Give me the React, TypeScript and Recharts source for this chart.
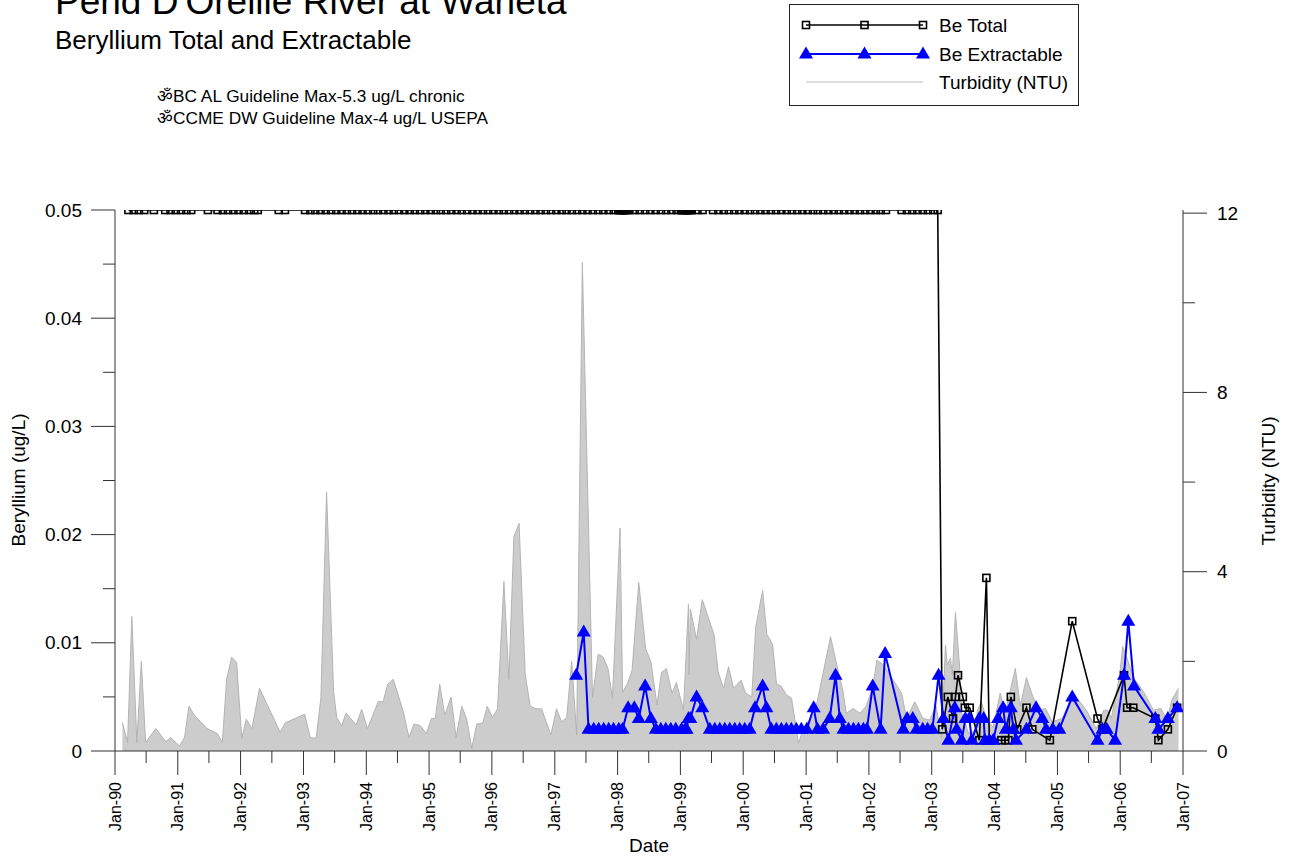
import React from "react";
import { ComposedChart, Area, Line, XAxis, YAxis, Legend } from "recharts";

const FONT = '"Liberation Sans", Arial, Helvetica, sans-serif';
const AXIS = "#333";

const title = "Pend D'Oreille River at Waneta";
const subtitle = "Beryllium Total and Extractable";
const guidelines = [
  "\u0950BC AL Guideline Max-5.3 ug/L chronic",
  "\u0950CCME DW Guideline Max-4 ug/L USEPA",
];

// turbidity, NTU
const turbidity: [string, number][] = [
  ["1990-02-13", 0.64], ["1990-03-15", 0.19], ["1990-04-09", 3.0], ["1990-05-08", 0.19],
  ["1990-06-03", 2.0], ["1990-06-28", 0.19], ["1990-08-26", 0.5], ["1990-10-23", 0.21],
  ["1990-11-21", 0.3], ["1991-01-11", 0.11], ["1991-02-09", 0.3], ["1991-03-07", 1.0],
  ["1991-04-09", 0.79], ["1991-06-21", 0.5], ["1991-08-19", 0.39], ["1991-09-17", 0.19],
  ["1991-10-12", 1.6], ["1991-11-10", 2.09], ["1991-12-09", 1.98], ["1992-01-08", 0.28],
  ["1992-02-03", 0.71], ["1992-03-07", 0.5], ["1992-04-20", 1.4], ["1992-08-18", 0.42],
  ["1992-09-17", 0.63], ["1993-01-08", 0.82], ["1993-02-09", 0.3], ["1993-03-15", 0.28],
  ["1993-04-12", 1.18], ["1993-05-15", 5.78], ["1993-06-25", 1.32], ["1993-07-13", 0.75],
  ["1993-08-11", 0.56], ["1993-09-05", 0.85], ["1993-11-03", 0.58], ["1993-12-05", 0.93],
  ["1994-01-08", 0.5], ["1994-03-11", 1.1], ["1994-04-09", 1.1], ["1994-05-05", 1.49],
  ["1994-06-07", 1.6], ["1994-08-04", 0.88], ["1994-09-06", 0.3], ["1994-10-05", 0.6],
  ["1994-11-10", 0.57], ["1994-12-16", 0.39], ["1995-01-15", 0.73], ["1995-02-06", 0.73],
  ["1995-03-04", 1.49], ["1995-04-02", 0.8], ["1995-05-09", 1.2], ["1995-06-07", 0.3],
  ["1995-07-10", 1.0], ["1995-08-08", 0.71], ["1995-09-06", 0.06], ["1995-10-05", 0.6],
  ["1995-11-10", 0.63], ["1995-12-05", 1.0], ["1996-01-05", 0.75], ["1996-02-03", 0.94],
  ["1996-03-11", 3.78], ["1996-04-09", 1.6], ["1996-05-08", 4.78], ["1996-06-07", 5.08],
  ["1996-07-13", 1.7], ["1996-08-11", 1.0], ["1996-09-13", 0.94], ["1996-10-16", 0.94],
  ["1996-12-09", 0.36], ["1997-01-11", 0.94], ["1997-02-09", 0.65], ["1997-03-11", 0.75],
  ["1997-04-09", 2.0], ["1997-05-08", 0.36], ["1997-06-10", 10.9], ["1997-08-08", 1.2],
  ["1997-09-10", 2.16], ["1997-10-08", 2.1], ["1997-11-06", 1.84], ["1997-12-02", 1.18],
  ["1998-01-15", 4.97], ["1998-01-30", 1.31], ["1998-02-28", 1.51], ["1998-03-26", 1.8],
  ["1998-05-04", 3.76], ["1998-06-13", 2.28], ["1998-07-13", 2.0], ["1998-08-18", 1.03],
  ["1998-09-13", 1.75], ["1998-10-12", 1.84], ["1998-11-13", 1.29], ["1998-12-09", 1.53],
  ["1999-01-19", 0.91], ["1999-02-17", 3.28], ["1999-02-20", 1.7], ["1999-02-28", 3.17],
  ["1999-04-05", 2.49], ["1999-05-08", 3.38], ["1999-07-16", 2.59], ["1999-08-08", 1.77],
  ["1999-09-09", 1.4], ["1999-10-08", 1.88], ["1999-11-06", 1.4], ["1999-12-20", 1.58],
  ["2000-01-15", 1.29], ["2000-02-20", 1.21], ["2000-03-14", 2.77], ["2000-04-23", 3.58],
  ["2000-05-18", 2.6], ["2000-06-20", 2.38], ["2000-07-13", 1.49], ["2000-08-08", 1.45],
  ["2000-09-09", 1.25], ["2000-10-08", 1.18], ["2000-11-18", 0.17], ["2000-12-06", 0.39],
  ["2001-01-05", 0.62], ["2001-02-20", 0.84], ["2001-04-09", 1.73], ["2001-05-23", 2.55],
  ["2001-06-28", 1.92], ["2001-08-04", 1.32], ["2001-08-22", 0.84], ["2001-10-01", 0.95],
  ["2001-11-10", 0.84], ["2001-12-16", 1.0], ["2002-01-23", 1.43], ["2002-02-17", 2.03],
  ["2002-03-26", 1.92], ["2002-05-23", 1.58], ["2002-07-10", 1.29], ["2002-08-08", 0.73],
  ["2002-09-25", 1.1], ["2002-11-10", 0.73], ["2002-12-20", 0.69], ["2003-01-26", 1.0],
  ["2003-02-28", 0.28], ["2003-03-22", 2.36], ["2003-04-02", 1.92], ["2003-04-20", 2.07],
  ["2003-05-01", 1.7], ["2003-05-19", 3.09], ["2003-06-13", 1.84], ["2003-06-25", 0.84],
  ["2003-08-04", 0.39], ["2003-09-06", 0.45], ["2003-09-25", 0.91], ["2003-10-16", 1.1],
  ["2003-11-18", 0.69], ["2003-12-25", 0.53], ["2004-02-03", 1.29], ["2004-03-03", 0.84],
  ["2004-05-01", 1.84], ["2004-05-30", 1.0], ["2004-07-05", 1.64], ["2004-08-11", 1.21],
  ["2004-09-20", 0.91], ["2004-10-23", 0.95], ["2004-12-02", 0.65], ["2005-01-30", 0.73],
  ["2005-04-02", 1.29], ["2005-06-18", 0.91], ["2005-08-15", 0.5], ["2005-09-27", 0.91],
  ["2005-10-20", 0.91], ["2005-11-10", 0.73], ["2005-12-28", 1.66], ["2006-01-15", 2.33],
  ["2006-03-26", 1.6], ["2006-05-20", 1.3], ["2006-07-13", 0.91], ["2006-08-25", 0.95],
  ["2006-10-01", 0.69], ["2006-10-27", 1.13], ["2006-12-06", 1.4],
];

// total beryllium, ug/L (0.05 = detection limit before 2003)
const beTotal: [string, number][] = [
  ["1990-03-20", 0.05], ["1990-04-20", 0.05], ["1990-05-20", 0.05], ["1990-06-20", 0.05],
  ["1990-08-15", 0.05], ["1990-10-20", 0.05], ["1990-11-20", 0.05], ["1990-12-20", 0.05],
  ["1991-01-20", 0.05], ["1991-02-20", 0.05], ["1991-03-20", 0.05], ["1991-06-25", 0.05],
  ["1991-08-20", 0.05], ["1991-09-20", 0.05], ["1991-10-20", 0.05], ["1991-11-20", 0.05],
  ["1991-12-20", 0.05], ["1992-01-20", 0.05], ["1992-02-20", 0.05], ["1992-03-20", 0.05],
  ["1992-04-10", 0.05], ["1992-08-10", 0.05], ["1992-09-15", 0.05],
  ["1993-01-10", 0.05], ["1993-02-10", 0.05], ["1993-03-10", 0.05], ["1993-04-10", 0.05],
  ["1993-05-10", 0.05], ["1993-06-10", 0.05], ["1993-07-10", 0.05], ["1993-08-10", 0.05],
  ["1993-09-10", 0.05], ["1993-10-10", 0.05], ["1993-11-10", 0.05], ["1993-12-10", 0.05],
  ["1994-01-10", 0.05], ["1994-02-10", 0.05], ["1994-03-10", 0.05], ["1994-04-10", 0.05],
  ["1994-05-10", 0.05], ["1994-06-10", 0.05], ["1994-07-10", 0.05], ["1994-08-10", 0.05],
  ["1994-09-10", 0.05], ["1994-10-10", 0.05], ["1994-11-10", 0.05], ["1994-12-10", 0.05],
  ["1995-01-10", 0.05], ["1995-02-10", 0.05], ["1995-03-10", 0.05], ["1995-04-10", 0.05],
  ["1995-05-10", 0.05], ["1995-06-10", 0.05], ["1995-07-10", 0.05], ["1995-08-10", 0.05],
  ["1995-09-10", 0.05], ["1995-10-10", 0.05], ["1995-11-10", 0.05], ["1995-12-10", 0.05],
  ["1996-01-10", 0.05], ["1996-02-10", 0.05], ["1996-03-10", 0.05], ["1996-04-10", 0.05],
  ["1996-05-10", 0.05], ["1996-06-10", 0.05], ["1996-07-10", 0.05], ["1996-08-10", 0.05],
  ["1996-09-10", 0.05], ["1996-10-10", 0.05], ["1996-11-10", 0.05], ["1996-12-10", 0.05],
  ["1997-01-10", 0.05], ["1997-02-10", 0.05], ["1997-03-10", 0.05], ["1997-04-10", 0.05],
  ["1997-05-10", 0.05], ["1997-06-10", 0.05], ["1997-07-10", 0.05], ["1997-08-10", 0.05],
  ["1997-09-10", 0.05], ["1997-10-10", 0.05], ["1997-11-10", 0.05], ["1997-12-10", 0.05],
  ["1998-01-05", 0.05], ["1998-01-12", 0.05], ["1998-01-19", 0.05], ["1998-01-26", 0.05],
  ["1998-02-02", 0.05], ["1998-02-09", 0.05], ["1998-02-16", 0.05], ["1998-02-23", 0.05],
  ["1998-03-10", 0.05], ["1998-04-10", 0.05], ["1998-05-10", 0.05], ["1998-06-10", 0.05],
  ["1998-07-10", 0.05], ["1998-08-10", 0.05], ["1998-09-10", 0.05], ["1998-10-10", 0.05],
  ["1998-11-10", 0.05], ["1998-12-10", 0.05],
  ["1999-01-04", 0.05], ["1999-01-11", 0.05], ["1999-01-18", 0.05], ["1999-01-25", 0.05],
  ["1999-02-01", 0.05], ["1999-02-08", 0.05], ["1999-02-15", 0.05], ["1999-02-22", 0.05],
  ["1999-03-01", 0.05], ["1999-03-08", 0.05], ["1999-04-10", 0.05], ["1999-05-10", 0.05],
  ["1999-07-10", 0.05], ["1999-08-10", 0.05], ["1999-09-10", 0.05], ["1999-10-10", 0.05],
  ["1999-11-10", 0.05], ["1999-12-10", 0.05],
  ["2000-01-10", 0.05], ["2000-02-10", 0.05], ["2000-03-10", 0.05], ["2000-04-10", 0.05],
  ["2000-05-10", 0.05], ["2000-06-10", 0.05], ["2000-07-10", 0.05], ["2000-08-10", 0.05],
  ["2000-09-10", 0.05], ["2000-10-10", 0.05], ["2000-11-10", 0.05], ["2000-12-10", 0.05],
  ["2001-01-10", 0.05], ["2001-02-10", 0.05], ["2001-03-10", 0.05], ["2001-04-10", 0.05],
  ["2001-05-10", 0.05], ["2001-06-10", 0.05], ["2001-07-10", 0.05], ["2001-08-10", 0.05],
  ["2001-09-10", 0.05], ["2001-10-10", 0.05], ["2001-11-10", 0.05], ["2001-12-10", 0.05],
  ["2002-01-10", 0.05], ["2002-02-10", 0.05], ["2002-03-10", 0.05], ["2002-04-10", 0.05],
  ["2002-07-10", 0.05], ["2002-08-10", 0.05], ["2002-09-10", 0.05], ["2002-10-10", 0.05],
  ["2002-11-10", 0.05], ["2002-12-10", 0.05], ["2003-01-10", 0.05], ["2003-02-05", 0.05],
  ["2003-03-03", 0.002], ["2003-04-05", 0.005], ["2003-05-05", 0.003], ["2003-05-19", 0.005],
  ["2003-06-03", 0.007], ["2003-07-01", 0.005], ["2003-07-13", 0.004], ["2003-08-10", 0.004],
  ["2003-10-05", 0.001], ["2003-11-15", 0.016], ["2003-12-02", 0.001], ["2004-02-10", 0.001],
  ["2004-03-03", 0.001], ["2004-03-22", 0.001], ["2004-04-05", 0.005], ["2004-05-12", 0.002],
  ["2004-07-05", 0.004], ["2004-08-08", 0.002], ["2004-11-18", 0.001], ["2005-03-28", 0.012],
  ["2005-08-22", 0.003], ["2005-09-20", 0.002], ["2006-01-23", 0.007], ["2006-02-10", 0.004],
  ["2006-03-18", 0.004], ["2006-07-24", 0.003], ["2006-08-11", 0.001], ["2006-10-05", 0.002],
  ["2006-11-28", 0.004],
];

// extractable beryllium, ug/L
const beExtractable: [string, number][] = [
  ["1997-05-05", 0.007], ["1997-06-18", 0.011], ["1997-07-16", 0.002], ["1997-08-15", 0.002],
  ["1997-09-13", 0.002], ["1997-10-12", 0.002], ["1997-11-10", 0.002], ["1997-12-08", 0.002],
  ["1998-01-08", 0.002], ["1998-01-30", 0.002], ["1998-03-03", 0.004], ["1998-04-08", 0.004],
  ["1998-05-04", 0.003], ["1998-06-10", 0.006], ["1998-07-13", 0.003], ["1998-08-11", 0.002],
  ["1998-09-09", 0.002], ["1998-10-08", 0.002], ["1998-11-06", 0.002], ["1998-12-05", 0.002],
  ["1999-01-08", 0.002], ["1999-01-30", 0.002], ["1999-02-06", 0.002], ["1999-02-17", 0.003],
  ["1999-02-28", 0.003], ["1999-04-05", 0.005], ["1999-05-08", 0.004], ["1999-06-21", 0.002],
  ["1999-07-20", 0.002], ["1999-08-18", 0.002], ["1999-09-16", 0.002], ["1999-10-15", 0.002],
  ["1999-11-13", 0.002], ["1999-12-12", 0.002], ["2000-01-10", 0.002], ["2000-02-08", 0.002],
  ["2000-03-10", 0.004], ["2000-04-23", 0.006], ["2000-05-15", 0.004], ["2000-06-13", 0.002],
  ["2000-07-12", 0.002], ["2000-08-10", 0.002], ["2000-09-08", 0.002], ["2000-10-07", 0.002],
  ["2000-11-05", 0.002], ["2000-12-04", 0.002], ["2001-01-05", 0.002], ["2001-02-14", 0.004],
  ["2001-03-08", 0.002], ["2001-04-10", 0.002], ["2001-05-18", 0.003], ["2001-06-21", 0.007],
  ["2001-07-16", 0.003], ["2001-08-06", 0.002], ["2001-09-04", 0.002], ["2001-10-03", 0.002],
  ["2001-11-01", 0.002], ["2001-11-30", 0.002], ["2001-12-20", 0.002], ["2002-01-23", 0.006],
  ["2002-03-10", 0.002], ["2002-04-05", 0.009], ["2002-07-20", 0.002], ["2002-08-11", 0.003],
  ["2002-09-13", 0.003], ["2002-10-05", 0.002], ["2002-11-10", 0.002], ["2002-12-08", 0.002],
  ["2003-01-05", 0.002], ["2003-02-10", 0.007], ["2003-03-10", 0.003], ["2003-04-08", 0.001],
  ["2003-05-15", 0.004], ["2003-05-26", 0.002], ["2003-06-25", 0.001], ["2003-07-16", 0.003],
  ["2003-08-08", 0.003], ["2003-08-22", 0.001], ["2003-10-05", 0.003], ["2003-10-30", 0.003],
  ["2003-11-06", 0.001], ["2003-12-02", 0.001], ["2003-12-25", 0.001], ["2004-01-22", 0.003],
  ["2004-02-20", 0.004], ["2004-03-07", 0.002], ["2004-04-05", 0.004], ["2004-04-20", 0.002],
  ["2004-05-05", 0.001], ["2004-07-05", 0.002], ["2004-08-30", 0.004], ["2004-10-05", 0.003],
  ["2004-10-27", 0.002], ["2004-12-05", 0.002], ["2005-01-12", 0.002], ["2005-03-28", 0.005],
  ["2005-08-22", 0.001], ["2005-09-20", 0.002], ["2005-10-15", 0.002], ["2005-12-02", 0.001],
  ["2006-01-23", 0.007], ["2006-02-17", 0.012], ["2006-03-22", 0.006], ["2006-07-24", 0.003],
  ["2006-08-11", 0.002], ["2006-10-05", 0.003], ["2006-11-28", 0.004],
];

const xTickLabels = [
  "Jan-90", "Jan-91", "Jan-92", "Jan-93", "Jan-94", "Jan-95", "Jan-96", "Jan-97", "Jan-98",
  "Jan-99", "Jan-00", "Jan-01", "Jan-02", "Jan-03", "Jan-04", "Jan-05", "Jan-06", "Jan-07",
];
const beTicks = [0, 0.005, 0.01, 0.015, 0.02, 0.025, 0.03, 0.035, 0.04, 0.045, 0.05];
const beTickLabels = ["0", "", "0.01", "", "0.02", "", "0.03", "", "0.04", "", "0.05"];
const turbTicks = [0, 2, 4, 6, 8, 10, 12];
const turbTickLabels = ["0", "", "4", "", "8", "", "12"];

const toTime = (d: string) => Date.UTC(+d.slice(0, 4), +d.slice(5, 7) - 1, +d.slice(8, 10));
const toRows = (pts: [string, number][]) => pts.map(([d, v]) => ({ t: toTime(d), v }));

const turbRows = toRows(turbidity);
const totalRows = toRows(beTotal);
const extRows = toRows(beExtractable);

// Jan ticks carry a label, Jul ticks are short and blank
const xLabelAt = new Map<number, string>();
const xTicks: number[] = [];
xTickLabels.forEach((lab, i) => {
  const jan = Date.UTC(1990 + i, 0, 1);
  xTicks.push(jan);
  xLabelAt.set(jan, lab);
  if (i < xTickLabels.length - 1) xTicks.push(Date.UTC(1990 + i, 6, 1));
});
const xDomain = [xTicks[0], xTicks[xTicks.length - 1]];

function DateTick(props: any) {
  const { x, y, payload } = props;
  const label = xLabelAt.get(payload.value);
  return (
    <g>
      <line x1={x} y1={y} x2={x} y2={y + (label ? 24 : 12)} stroke={AXIS} />
      {label && (
        <text
          transform={`translate(${x},${y + 31}) rotate(-90)`}
          textAnchor="end"
          dy="0.35em"
          fontSize={16}
          fill="#000"
          fontFamily={FONT}
        >
          {label}
        </text>
      )}
    </g>
  );
}

function BeTick(props: any) {
  const { x, y, payload } = props;
  const label = beTickLabels[beTicks.indexOf(payload.value)];
  return (
    <g>
      <line x1={x - (label ? 24 : 12)} y1={y} x2={x} y2={y} stroke={AXIS} />
      {label && (
        <text x={x - 33} y={y} dy="0.35em" textAnchor="end" fontSize={19} fill="#000" fontFamily={FONT}>
          {label}
        </text>
      )}
    </g>
  );
}

function TurbTick(props: any) {
  const { x, y, payload } = props;
  const label = turbTickLabels[turbTicks.indexOf(payload.value)];
  return (
    <g>
      <line x1={x} y1={y} x2={x + (label ? 24 : 12)} y2={y} stroke={AXIS} />
      {label && (
        <text x={x + 34} y={y} dy="0.35em" textAnchor="start" fontSize={19} fill="#000" fontFamily={FONT}>
          {label}
        </text>
      )}
    </g>
  );
}

const squareDot = (p: any) => (
  <rect
    key={`sq-${p.index}`}
    x={p.cx - 3.5}
    y={p.cy - 3.5}
    width={7}
    height={7}
    fill="none"
    stroke="#000"
    strokeWidth={1.6}
  />
);

const triangle = (cx: number, cy: number) =>
  `${cx},${cy - 7.5} ${cx - 7},${cy + 4.5} ${cx + 7},${cy + 4.5}`;

const triangleDot = (p: any) => (
  <polygon key={`tr-${p.index}`} points={triangle(p.cx, p.cy)} fill="#0000ff" />
);

function LegendBox() {
  const rows = [20, 49, 77];
  const xs = [16, 74.5, 133];
  return (
    <div
      style={{
        width: 290,
        height: 102,
        border: "1px solid #222",
        boxSizing: "border-box",
        background: "#fff",
      }}
    >
      <svg width={288} height={100} style={{ display: "block" }}>
        <line x1={16} x2={133} y1={rows[0]} y2={rows[0]} stroke="#000" strokeWidth={1.5} />
        {xs.map((x) => (
          <rect key={`l1-${x}`} x={x - 3.5} y={rows[0] - 3.5} width={7} height={7} fill="none" stroke="#000" strokeWidth={1.6} />
        ))}
        <line x1={16} x2={133} y1={rows[1]} y2={rows[1]} stroke="#0000ff" strokeWidth={2} />
        {xs.map((x) => (
          <polygon key={`l2-${x}`} points={triangle(x, rows[1])} fill="#0000ff" />
        ))}
        <line x1={16} x2={133} y1={rows[2]} y2={rows[2]} stroke="#bdbdbd" strokeWidth={1.2} />
        {["Be Total", "Be Extractable", "Turbidity (NTU)"].map((t, i) => (
          <text key={t} x={149} y={rows[i]} dy="0.35em" fontSize={19} fontFamily={FONT} fill="#000">
            {t}
          </text>
        ))}
      </svg>
    </div>
  );
}

export default function App() {
  return (
    <div
      style={{
        position: "absolute",
        left: 0,
        top: 0,
        width: 1298,
        height: 857,
        background: "#fff",
        fontFamily: FONT,
        overflow: "hidden",
      }}
    >
      <div style={{ position: "absolute", left: 0, top: 0 }}>
        <ComposedChart width={1298} height={857} margin={{ top: 210, right: 55, bottom: 46, left: 55 }}>
          <XAxis
            dataKey="t"
            type="number"
            domain={xDomain}
            ticks={xTicks}
            interval={0}
            allowDataOverflow
            height={60}
            tickLine={false}
            tickSize={0}
            tickMargin={0}
            axisLine={{ stroke: AXIS }}
            tick={DateTick}
          />
          <YAxis
            yAxisId="be"
            orientation="left"
            width={60}
            domain={[0, 0.05]}
            ticks={beTicks}
            interval={0}
            allowDataOverflow
            tickLine={false}
            tickSize={0}
            tickMargin={0}
            axisLine={{ stroke: AXIS }}
            tick={BeTick}
          />
          <YAxis
            yAxisId="turb"
            orientation="right"
            width={60}
            domain={[0, 12.07]}
            ticks={turbTicks}
            interval={0}
            allowDataOverflow
            tickLine={false}
            tickSize={0}
            tickMargin={0}
            axisLine={{ stroke: AXIS }}
            tick={TurbTick}
          />
          <Legend
            verticalAlign="middle"
            align="center"
            layout="horizontal"
            content={<LegendBox />}
            wrapperStyle={{ left: 789, top: 4, width: 290, height: 102 }}
          />
          <Area
            yAxisId="turb"
            data={turbRows}
            dataKey="v"
            name="Turbidity (NTU)"
            type="linear"
            fill="#cccccc"
            fillOpacity={1}
            stroke="#b4b4b4"
            strokeWidth={1}
            isAnimationActive={false}
          />
          <Line
            yAxisId="be"
            data={totalRows}
            dataKey="v"
            name="Be Total"
            type="linear"
            stroke="#000"
            strokeWidth={1.6}
            dot={squareDot}
            activeDot={false}
            isAnimationActive={false}
          />
          <Line
            yAxisId="be"
            data={extRows}
            dataKey="v"
            name="Be Extractable"
            type="linear"
            stroke="#0000ff"
            strokeWidth={2}
            dot={triangleDot}
            activeDot={false}
            isAnimationActive={false}
          />
        </ComposedChart>
      </div>
      <svg
        width={1298}
        height={857}
        style={{ position: "absolute", left: 0, top: 0, pointerEvents: "none" }}
        fontFamily={FONT}
      >
        <text x={55} y={14} fontSize={37} fill="#000">{title}</text>
        <text x={55} y={49} fontSize={26} fill="#000">{subtitle}</text>
        {guidelines.map((g, i) => (
          <text key={g} x={157} y={102 + i * 22.3} fontSize={17.3} fill="#000">
            {g}
          </text>
        ))}
        <text transform="translate(18,480) rotate(-90)" textAnchor="middle" dy="0.35em" fontSize={19} fill="#000">
          Beryllium (ug/L)
        </text>
        <text transform="translate(1268,481) rotate(-90)" textAnchor="middle" dy="0.35em" fontSize={19} fill="#000">
          Turbidity (NTU)
        </text>
        <text x={649} y={852} textAnchor="middle" fontSize={19} fill="#000">
          Date
        </text>
      </svg>
    </div>
  );
}
